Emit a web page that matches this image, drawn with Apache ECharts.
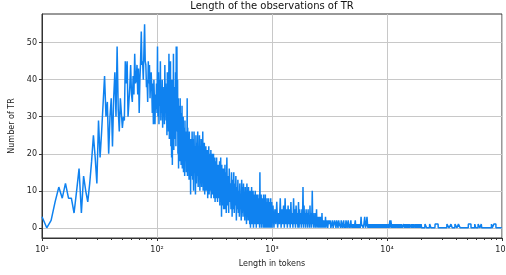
<!DOCTYPE html>
<html><head><meta charset="utf-8">
<script src="https://cdn.jsdelivr.net/npm/echarts@6/dist/echarts.min.js"></script>
<style>html,body{margin:0;padding:0;background:#fff}#c{width:506px;height:275px}</style>
</head><body><div id="c"></div>
<script>
const titleText = 'Length of the observations of TR';
const xName = 'Length in tokens';
const yName = 'Number of TR';
const xTickLabels = ['10¹','10²','10³','10⁴','10⁵'];
const yTicks = [0,10,20,30,40,50];
const xMinorTicks = [20,30,40,50,60,70,80,90,200,300,400,500,600,700,800,900,2000,3000,4000,5000,6000,7000,8000,9000,20000,30000,40000,50000,60000,70000,80000,90000];

// counts per token length, segment A: lengths 10..200 step 1
const countsA = [3,0,2,7,11,8,12,8,8,4,10,16,4,14,10,7,12,18,25,19,12,29,19,26,26,
41,30,34,20,30,35,22,35,42,30,49,32,26,35,35,27,30,29,45,39,45,30,34,38,44,36,34,41,36,47,39,40,44,36,43,31,40,45,53,44,45,40,48,55,45,44,38,40,34,45,39,44,35,40,42,38,31,39,28,40,34,28,36,32,39,31,
49,30,42,28,40,33,45,29,38,31,
40,27,38,30,37,28,44,32,39,29,
36,25,42,30,38,26,47,24,35,28,
45,22,38,19,40,17,36,25,47,21,
38,24,35,28,42,22,49,30,49,26,
40,20,35,16,33,22,30,18,35,24,
31,17,28,22,33,16,26,20,30,15,
27,19,25,14,29,18,24,21,26,15,
24,17,35,14,27,19,22,16,25,13,
26,15,23,18,21,9,24,16,22,14];
// segment B: lengths 202..400 step 2
const countsB = [26,13,24,10,26,15,22,9,25,12,
23,14,26,11,21,13,25,10,22,12,
24,11,20,14,26,10,21,12,23,9,
20,12,22,10,19,13,21,8,20,11,
22,9,18,12,20,10,21,8,17,11,
20,9,18,11,20,8,17,10,19,7,
18,10,16,8,19,9,17,7,16,10,
17,8,15,9,18,6,16,8,19,7,
15,3,17,8,14,6,16,9,13,5,
16,7,14,5,17,8,13,6,15,4];
// segment C: lengths 405..1000 step 5
const countsC = [19,6,14,4,16,7,12,5,15,3,
13,5,15,4,12,6,14,2,11,5,
13,4,10,3,12,5,9,2,13,4,
11,3,12,5,9,2,11,4,10,1,
12,3,9,2,11,4,8,1,10,0,
9,3,11,1,8,2,10,0,9,2,
8,1,10,2,7,0,9,3,8,1,
9,1,8,2,7,0,15,3,7,1,
9,0,7,2,8,1,6,0,9,2,
7,0,8,1,9,0,6,2,7,0,
8,1,6,0,7,2,8,0,6,1,
7,0,6,2,8,0,5,1,7,0];
// segment D: lengths 1020..3000 step 20
const countsD = [6,0,5,1,7,0,4,1,8,0,
5,1,6,0,8,1,5,0,6,1,
5,0,7,1,4,0,8,1,5,0,
6,1,4,0,7,0,5,1,4,0,
5,1,11,0,6,1,4,0,5,1,
4,0,5,1,3,0,6,1,4,0,
3,10,1,4,0,3,1,4,0,3,
1,5,0,3,1,2,0,3,1,2,
0,3,1,2,0,4,1,2,0,2,
1,2,0,2,1,3,0,2,1,2];
// segment E1: lengths 3050..6000 step 50
const countsE1 = [0,2,1,2,0,1,2,0,1,2, 1,0,2,1,0,2,1,1,0,2, 1,0,1,2,0,1,0,2,1,0,
1,2,0,1,0,1,2,0,1,0, 1,0,1,0,1,2,0,1,0,1, 0,1,0,1,0,1,0,1,3,1];
// segment E2: lengths 6100..12000 step 100
const countsE2 = [1,0,1,3,0,1,3,0,1,0, 1,0,1,0,1,0,1,0,1,0, 1,0,1,0,1,0,1,0,1,0,
1,0,1,0,1,0,1,0,1,0, 1,0,1,0,1,2,0,2,1,0, 1,0,1,0,1,0,1,0,1,0];
// segment E3: lengths 12200..20000 step 200
const countsE3 = [1,0,1,0,1,0,1,0,0,1, 0,1,0,1,0,1,0,1,0,0, 1,0,1,0,1,0,0,1,0,1, 0,1,0,1,0,0,1,0,1,0];
// tail: explicit lengths and counts
const tailLengths = [20500,
21300,21400,22000,22100, 23400,23500,24000,24100, 26100,26200,27800,27900,
33100,33200,34500,34600, 35900,36000,36800,36900, 38900,39000,40500,40600,
41700,41800,43200,43300, 50900,51000,53700,53800, 57900,58000,59000,59100,
61900,62000,64200,64300, 65900,66000,66600,66700, 80900,81000,82000,82100,
84900,85000,88500,88600, 99500];
const tailCounts = [0,
0,1,1,0, 0,1,1,0, 0,1,1,0,
0,1,1,0, 0,1,1,0, 0,1,1,0,
0,1,1,0, 0,1,1,0, 0,1,1,0,
0,1,1,0, 0,1,1,0, 0,1,1,0,
0,1,1,0, 0];

function seg(start, step, counts){ return counts.map((c,i)=>[start+i*step, c]); }
const data = [].concat(
  seg(10,1,countsA), seg(202,2,countsB), seg(405,5,countsC), seg(1020,20,countsD),
  seg(3050,50,countsE1), seg(6100,100,countsE2), seg(12200,200,countsE3),
  tailLengths.map((l,i)=>[l, tailCounts[i]])
);

const FONT = 'DejaVu Sans';
const chart = echarts.init(document.getElementById('c'), null, {renderer:'canvas'});
chart.setOption({
  animation:false,
  backgroundColor:'#fff',
  title:{text:titleText, left:272, textAlign:'center', top:1, padding:0,
    textStyle:{fontFamily:FONT, fontSize:10, fontWeight:'normal', color:'#111'}},
  grid:{left:42, right:4, top:14, bottom:37, show:true, borderColor:'#333', borderWidth:1, containLabel:false, outerBoundsMode:'none'},
  xAxis:[{
    type:'log', logBase:10, min:10, max:100000, position:'bottom',
    name:xName, nameLocation:'middle', nameGap:22,
    nameTextStyle:{fontFamily:FONT, fontSize:8, color:'#222'},
    axisLine:{show:true, onZero:false, lineStyle:{color:'#333', width:1}},
    axisTick:{show:true, length:3, lineStyle:{color:'#333'}},
    axisLabel:{fontFamily:FONT, fontSize:8, color:'#222', margin:8,
      formatter:v=>xTickLabels[Math.round(Math.log10(v))-1]},
    splitLine:{show:true, lineStyle:{color:'#c8c8c8', width:1}},
    minorTick:{show:false}, minorSplitLine:{show:false}
  },{
    type:'log', logBase:10, min:10, max:100000, position:'bottom', gridIndex:0,
    axisLine:{show:false, onZero:false},
    axisTick:{show:true, length:2, customValues:xMinorTicks, lineStyle:{color:'#333'}},
    axisLabel:{show:false}, splitLine:{show:false}
  }],
  yAxis:{
    type:'value', min:-2.75, max:57.75,
    name:yName, nameLocation:'middle', nameGap:17, nameRotate:90,
    nameTextStyle:{fontFamily:FONT, fontSize:8, color:'#222'},
    axisLine:{show:true, lineStyle:{color:'#333'}},
    axisTick:{show:true, length:3, customValues:yTicks, lineStyle:{color:'#333'}},
    axisLabel:{fontFamily:FONT, fontSize:8, color:'#222', margin:5, customValues:yTicks,
      showMinLabel:true, showMaxLabel:true},
    splitLine:{show:true, lineStyle:{color:'#c8c8c8', width:1}}
  },
  series:[{
    type:'line', xAxisIndex:0, data:data, showSymbol:false, symbol:'none',
    lineStyle:{color:'#0f82f0', width:1.5}, clip:true, sampling:null
  }]
});
</script></body></html>
